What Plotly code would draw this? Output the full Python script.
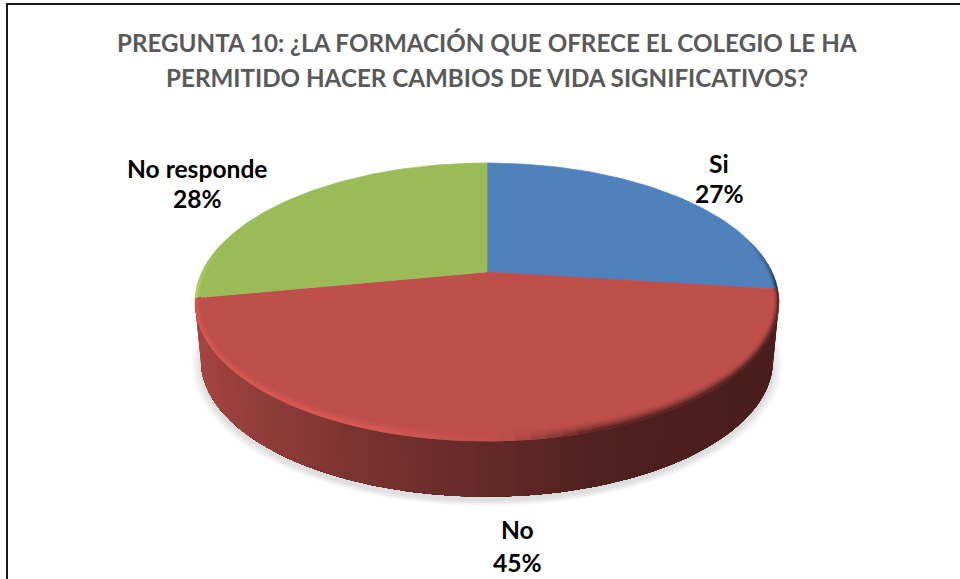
import numpy as np
import plotly.graph_objects as go

# ---- data -------------------------------------------------------------
title_lines = ["PREGUNTA 10: ¿LA FORMACIÓN QUE OFRECE EL COLEGIO LE HA",
               "PERMITIDO HACER CAMBIOS DE VIDA SIGNIFICATIVOS?"]
categories = ["Si", "No", "No responde"]
values = [27, 45, 28]
colors = [(79, 129, 189), (190, 79, 75), (155, 187, 89)]

# ---- projection of the tilted disc (pixel-valued axes) -----------------
CX, CY = 487, 272
K, RX, RY = 0.2157, 285, 132.5
DEPTH, BOTTOM_SCALE = 59, 0.98


def project(angle, scale=1.0, dy=0.0):
    X, Y = np.sin(angle), -np.cos(angle)
    w = 1 - K * Y
    return CX + scale * RX * X / w, CY + dy + scale * RY * Y / w


def mix(a, b, t):
    return tuple(a[i] + (b[i] - a[i]) * t for i in range(3))


def rgb(c):
    return "rgb(%d,%d,%d)" % tuple(round(v) for v in c)


def poly(fig, xs, ys, color, lw=0.7):
    fig.add_trace(go.Scatter(x=list(xs), y=list(ys), mode="lines", fill="toself",
                             fillcolor=color, line=dict(color=color, width=lw),
                             hoverinfo="skip", showlegend=False))


def wall_shade(X):
    pts_x = [-1.0, -0.7, -0.3, 0.0, 0.3, 0.6, 1.0]
    pts_v = [0.90, 0.78, 0.62, 0.53, 0.42, 0.39, 0.38]
    return float(np.interp(X, pts_x, pts_v))


fig = go.Figure()

# soft shadow under the disc
full = np.linspace(0, 2 * np.pi, 181)
for i in range(10, -1, -1):
    x, y = project(full, BOTTOM_SCALE * (1 + 0.0034 * i), DEPTH + 4)
    g = 222 + 3.2 * i
    poly(fig, x, y, rgb((g, g, g)))

# slice boundaries in radians, clockwise from 12 o'clock
total = sum(values)
edges = 2 * np.pi * np.cumsum([0] + values) / total
a_right = np.arccos(-K)
a_left = 2 * np.pi - a_right

# side wall: each strip is painted over the rest of the arc, so no seams show
for v0, v1, col in zip(edges[:-1], edges[1:], colors):
    lo, hi = max(v0, a_right - 0.02), min(v1, a_left + 0.02)
    if hi <= lo:
        continue
    steps = max(2, int((hi - lo) / np.radians(1.5)))
    grid = np.linspace(lo, hi, steps + 1)
    for a0, a1 in zip(grid[:-1], grid[1:]):
        arc = np.linspace(a0, hi, max(2, int((hi - a0) / np.radians(1.5)) + 1))
        xt, yt = project(arc)
        xb, yb = project(arc[::-1], BOTTOM_SCALE, DEPTH)
        shade = wall_shade(np.sin((a0 + a1) / 2))
        poly(fig, [*xt, *xb, xt[0]], [*yt, *yb, yt[0]],
             rgb(tuple(c * shade for c in col)), lw=0)

# top faces
for v0, v1, col in zip(edges[:-1], edges[1:], colors):
    arc = np.linspace(v0, v1, max(3, int((v1 - v0) / np.radians(1))))
    x, y = project(arc)
    poly(fig, [CX, *x, CX], [CY, *y, CY], rgb(col))

# bevel along the rim
LIGHT = 1.15
bands = 8
for v0, v1, col in zip(edges[:-1], edges[1:], colors):
    steps = max(2, int((v1 - v0) / np.radians(2.5)))
    grid = np.linspace(v0, v1, steps + 1)
    for a0, a1 in zip(grid[:-1], grid[1:]):
        mid = (a0 + a1) / 2
        X, Y = np.sin(mid), -np.cos(mid)
        front = np.clip((Y + 0.25) / 0.35, 0, 1)
        if front <= 0:
            continue
        for b in range(bands):
            u0, u1 = b / bands, (b + 1) / bands
            um = (u0 + u1) / 2
            if X < 0.05:
                target = tuple(min(255, c * LIGHT) for c in col)
                profile = um ** 1.5 if um < 0.8 else 0.72 + (1 - um) * 0.6
                strength = min(1.0, (0.05 - X) / 0.35) * profile
            else:
                target = tuple(c * wall_shade(X) for c in col)
                strength = min(1.0, (X - 0.05) / 0.25) * um ** 1.6
            c = mix(col, target, strength * front)
            pts = []
            for a, u in ((a0, u0), (a1, u0), (a1, u1), (a0, u1)):
                px, py = project(a)
                nx = CX + (px - CX) * (1 - 0.018 * (1 - u))
                ny = CY + (py - CY) * (1 - 0.065 * (1 - u))
                pts.append((nx, ny))
            pts.append(pts[0])
            poly(fig, [p[0] for p in pts], [p[1] for p in pts], rgb(c), lw=0.8)

# ---- text -------------------------------------------------------------
annotations = []
for text, y in zip(title_lines, (42, 77)):
    annotations.append(dict(x=487, y=y, text=text, showarrow=False, xanchor="center", yanchor="middle",
                            font=dict(family="Lato", size=24.2, color="#595959", weight="bold")))

label_pos = {"Si": (719, 163, 193), "No": (517, 529, 562), "No responde": (197, 168, 198)}
for cat, val in zip(categories, values):
    lx, y1, y2 = label_pos[cat]
    for t, y in ((cat, y1), (f"{round(100 * val / total)}%", y2)):
        annotations.append(dict(x=lx, y=y, text=t, showarrow=False, xanchor="center", yanchor="middle",
                                font=dict(family="Lato", size=24.6, color="#000000", weight="bold")))

frame = dict(type="path", path="M 7 579 L 7 4 L 960 4", line=dict(color="#1a1a1a", width=2))

fig.update_layout(
    width=960, height=579, margin=dict(l=0, r=0, t=0, b=0),
    paper_bgcolor="white", plot_bgcolor="white", showlegend=False,
    xaxis=dict(range=[0, 960], visible=False, fixedrange=True),
    yaxis=dict(range=[579, 0], visible=False, fixedrange=True),
    annotations=annotations, shapes=[frame],
)
fig.write_html("out.html", config={"displayModeBar": False},
               post_script="document.body.style.margin='0';document.documentElement.style.overflow='hidden';")
